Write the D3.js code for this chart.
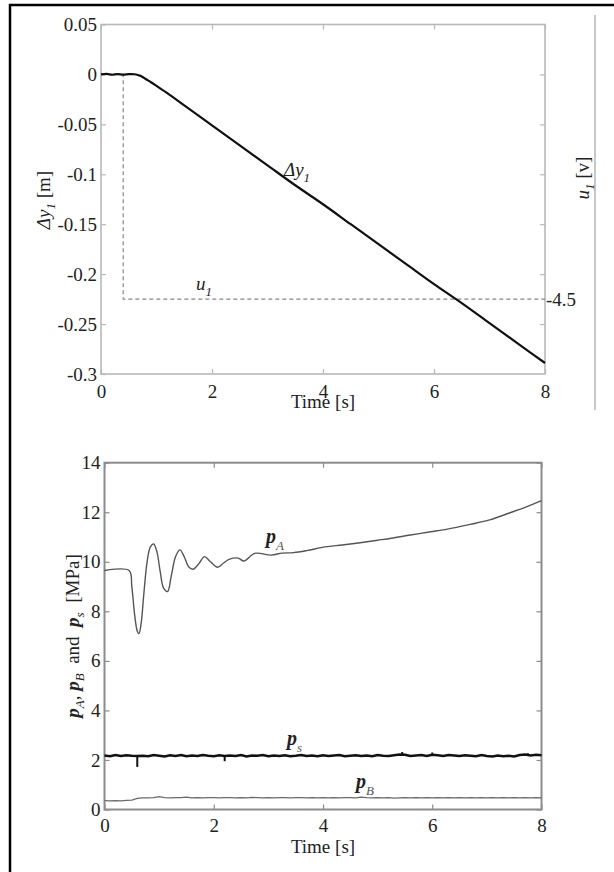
<!DOCTYPE html>
<html><head><meta charset="utf-8">
<script src="https://cdn.jsdelivr.net/npm/d3@7"></script>
<style>
body{margin:0;background:#fff}
svg{display:block}
svg text{font-family:"Liberation Serif","Times New Roman",serif !important;fill:#222}
</style>
</head><body>
<svg id="c" width="614" height="872"></svg>
<script>
// ---------- data: top panel ----------
const dyTime = [0,0.1,0.2,0.3,0.4,0.5,0.55,0.6,0.65,0.7,0.75,0.8,0.9,1.0,1.2,1.5,2,2.5,3,3.5,4,4.5,5,5.5,6,6.5,7,7.5,8];
const dyVal  = [0,0.0005,-0.0003,0.0004,-0.0002,0.0003,0.0004,0.0002,-0.0003,-0.0012,-0.0025,-0.0043,-0.0078,-0.0115,-0.019,-0.031,-0.051,-0.071,-0.091,-0.111,-0.130,-0.150,-0.170,-0.190,-0.210,-0.229,-0.249,-0.269,-0.289];
const uTime = [0,0.4,0.4,8];
const uVal  = [0,0,-4.5,-4.5];
const topXTicks = [0,2,4,6,8];
const topXLabels = ["0","2","4","6","8"];
const topYTicks = [0.05,0,-0.05,-0.1,-0.15,-0.2,-0.25,-0.3];
const topYLabels = ["0.05","0","-0.05","-0.1","-0.15","-0.2","-0.25","-0.3"];
const rightTicks = [0,-1,-2,-3,-4,-5];
const rightLabelVal = -4.5;
const rightLabelText = "-4.5";

// ---------- data: bottom panel ----------
const pATime = [0,0.45,0.5,0.55,0.6,0.63,0.67,0.72,0.78,0.84,0.9,0.96,1.02,1.08,1.155,1.22,1.3,1.38,1.46,1.54,1.62,1.72,1.83,1.94,2.07,2.18,2.28,2.45,2.55,2.75,3.05,3.25,3.46,3.7,4.04,4.35,4.68,5.0,5.25,5.6,5.97,6.3,6.69,7.05,7.4,7.7,8];
const pAVal  = [9.65,9.65,9.0,7.9,7.2,7.1,7.5,8.7,10.0,10.6,10.72,10.4,9.6,8.95,8.8,9.4,10.2,10.48,10.2,9.8,9.7,9.9,10.21,10.0,9.78,9.95,10.1,10.15,10.03,10.34,10.27,10.35,10.37,10.45,10.6,10.68,10.77,10.87,10.95,11.08,11.21,11.33,11.51,11.69,11.96,12.2,12.47];
const sampleStep = 0.1; // ps and pB are sampled every 0.1 s from t = 0
const psVal = [2.18,2.15,2.20,2.16,2.19,2.17,2.16,2.17,2.15,2.20,
               2.17,2.14,2.19,2.16,2.20,2.15,2.18,2.16,2.20,2.17,
               2.15,2.19,2.16,2.18,2.16,2.20,2.14,2.18,2.17,2.20,
               2.15,2.18,2.16,2.19,2.15,2.17,2.20,2.16,2.18,2.15,
               2.19,2.16,2.18,2.20,2.15,2.17,2.19,2.16,2.18,2.15,
               2.20,2.17,2.16,2.19,2.22,2.21,2.16,2.18,2.20,2.16,
               2.21,2.19,2.16,2.20,2.18,2.16,2.19,2.17,2.15,2.20,
               2.16,2.14,2.18,2.15,2.17,2.14,2.20,2.22,2.18,2.21,2.19];
const psSpikeT = [0.6,2.2,5.45,6.0,7.75];
const psSpikeV = [1.72,1.95,2.32,2.30,2.27];
const pBVal = [0.36,0.35,0.36,0.35,0.37,0.38,0.45,0.47,0.47,0.48,
               0.52,0.48,0.47,0.48,0.48,0.50,0.47,0.48,0.47,0.48,
               0.48,0.47,0.48,0.48,0.47,0.48,0.47,0.49,0.48,0.47,
               0.48,0.47,0.48,0.48,0.47,0.48,0.48,0.47,0.48,0.47,
               0.48,0.47,0.48,0.47,0.48,0.48,0.47,0.50,0.48,0.47,
               0.48,0.47,0.48,0.46,0.47,0.48,0.47,0.48,0.47,0.48,
               0.47,0.48,0.47,0.48,0.47,0.48,0.47,0.48,0.47,0.48,
               0.47,0.48,0.47,0.48,0.47,0.48,0.47,0.48,0.47,0.48,0.47];
const botXTicks = [0,2,4,6,8];
const botXLabels = ["0","2","4","6","8"];
const botYTicks = [0,2,4,6,8,10,12,14];
const botYLabels = ["0","2","4","6","8","10","12","14"];

// ---------- drawing ----------
const svg = d3.select("#c");
const FS = 19;
const SERIF = "'Liberation Serif','Times New Roman',serif";

// outer frame
svg.append("line").attr("x1",9).attr("x2",614).attr("y1",5).attr("y2",5).attr("stroke","#000").attr("stroke-width",2.5);
svg.append("line").attr("x1",10).attr("x2",10).attr("y1",4).attr("y2",872).attr("stroke","#000").attr("stroke-width",2.5);
svg.append("line").attr("x1",595).attr("x2",595).attr("y1",15).attr("y2",410).attr("stroke","#c8c8c8").attr("stroke-width",2);

function styleAxis(g, col){
  g.attr("font-family", SERIF).attr("font-size", FS);
  g.select(".domain").remove();
  g.selectAll(".tick line").attr("stroke",col).attr("stroke-width",1.2);
  g.selectAll(".tick text").style("font-family",SERIF).style("font-size",FS+"px").attr("fill","#222");
}

// ===== top panel =====
const x1 = d3.scaleLinear([0,8],[101,545]);
const y1 = d3.scaleLinear([0.05,-0.3],[24.5,374]);
const yR = d3.scaleLinear([1,-6],[24.5,374]);
const topCol = "#b8b8b8";
const gT = svg.append("g");

gT.append("g").attr("transform","translate(0,374)")
  .call(d3.axisBottom(x1).tickValues(topXTicks).tickFormat((d,i)=>topXLabels[i]).tickSizeInner(-5).tickSizeOuter(0).tickPadding(11))
  .call(g=>styleAxis(g,topCol));
gT.append("g").attr("transform","translate(0,24.5)")
  .call(d3.axisTop(x1).tickValues(topXTicks).tickFormat("").tickSizeInner(-5).tickSizeOuter(0))
  .call(g=>styleAxis(g,topCol));
gT.append("g").attr("transform","translate(101,0)")
  .call(d3.axisLeft(y1).tickValues(topYTicks).tickFormat((d,i)=>topYLabels[i]).tickSizeInner(-5).tickSizeOuter(0).tickPadding(4))
  .call(g=>styleAxis(g,topCol));
gT.append("g").attr("transform","translate(545,0)")
  .call(d3.axisRight(yR).tickValues(rightTicks).tickFormat("").tickSizeInner(-5).tickSizeOuter(0))
  .call(g=>styleAxis(g,topCol));
gT.append("rect").attr("x",x1(0)).attr("y",y1(0.05)).attr("width",x1(8)-x1(0)).attr("height",y1(-0.3)-y1(0.05))
  .attr("fill","none").attr("stroke",topCol).attr("stroke-width",1.6);

// u1 dashed
gT.append("path").datum(uTime.map((t,i)=>[t,uVal[i]]))
  .attr("d",d3.line().x(d=>x1(d[0])).y(d=>yR(d[1])))
  .attr("fill","none").attr("stroke","#888").attr("stroke-width",1.2).attr("stroke-dasharray","4,3");
// dy1 line
gT.append("path").datum(dyTime.map((t,i)=>[t,dyVal[i]]))
  .attr("d",d3.line().x(d=>x1(d[0])).y(d=>y1(d[1])).curve(d3.curveMonotoneX))
  .attr("fill","none").attr("stroke","#111").attr("stroke-width",2.2);

// right label -4.5
gT.append("text").attr("x",546).attr("y",yR(rightLabelVal)).attr("dy","0.35em").attr("font-size",FS).text(rightLabelText);

// axis labels
gT.append("text").attr("x",323).attr("y",408).attr("text-anchor","middle").attr("font-size",FS).text("Time [s]");
const yl1 = gT.append("text").attr("transform","translate(50,200) rotate(-90)").attr("text-anchor","middle").attr("font-size",FS);
yl1.append("tspan").attr("font-style","italic").text("Δy");
yl1.append("tspan").attr("font-style","italic").attr("font-size",13).attr("dy",5).text("1");
yl1.append("tspan").attr("dy",-5).text("  [m]");
const ylR = gT.append("text").attr("transform","translate(589,178) rotate(-90)").attr("text-anchor","middle").attr("font-size",FS);
ylR.append("tspan").attr("font-style","italic").text("u");
ylR.append("tspan").attr("font-style","italic").attr("font-size",13).attr("dy",5).text("1");
ylR.append("tspan").attr("dy",-5).text("  [v]");

// in-plot labels
const lDy = gT.append("text").attr("x",284).attr("y",176).attr("font-size",FS);
lDy.append("tspan").attr("font-style","italic").text("Δy");
lDy.append("tspan").attr("font-style","italic").attr("font-size",13).attr("dy",6).text("1");
const lU = gT.append("text").attr("x",196).attr("y",290).attr("font-size",FS);
lU.append("tspan").attr("font-style","italic").text("u");
lU.append("tspan").attr("font-style","italic").attr("font-size",13).attr("dy",6).text("1");

// ===== bottom panel =====
const x2 = d3.scaleLinear([0,8],[104.5,541.5]);
const y2 = d3.scaleLinear([0,14],[809.5,462.7]);
const botCol = "#8c8c8c";
const gB = svg.append("g");
gB.append("g").attr("transform","translate(0,809.5)")
  .call(d3.axisBottom(x2).tickValues(botXTicks).tickFormat((d,i)=>botXLabels[i]).tickSizeInner(-5).tickSizeOuter(0).tickPadding(9))
  .call(g=>styleAxis(g,botCol));
gB.append("g").attr("transform","translate(0,462.7)")
  .call(d3.axisTop(x2).tickValues(botXTicks).tickFormat("").tickSizeInner(-5).tickSizeOuter(0))
  .call(g=>styleAxis(g,botCol));
gB.append("g").attr("transform","translate(104.5,0)")
  .call(d3.axisLeft(y2).tickValues(botYTicks).tickFormat((d,i)=>botYLabels[i]).tickSizeInner(-5).tickSizeOuter(0).tickPadding(4))
  .call(g=>styleAxis(g,botCol));
gB.append("g").attr("transform","translate(541.5,0)")
  .call(d3.axisRight(y2).tickValues(botYTicks).tickFormat("").tickSizeInner(-5).tickSizeOuter(0))
  .call(g=>styleAxis(g,botCol));
gB.append("rect").attr("x",x2(0)).attr("y",y2(14)).attr("width",x2(8)-x2(0)).attr("height",y2(0)-y2(14))
  .attr("fill","none").attr("stroke",botCol).attr("stroke-width",2);

const lineB = d3.line().x(d=>x2(d[0])).y(d=>y2(d[1]));
gB.append("path").datum(pBVal.map((v,i)=>[i*sampleStep,v]))
  .attr("d",lineB).attr("fill","none").attr("stroke","#6a6a6a").attr("stroke-width",1.3);
gB.append("path").datum(psVal.map((v,i)=>[i*sampleStep,v]))
  .attr("d",lineB).attr("fill","none").attr("stroke","#111").attr("stroke-width",2.6);
gB.selectAll(".spk").data(psSpikeT.map((t,i)=>[t,psSpikeV[i]])).enter().append("line")
  .attr("x1",d=>x2(d[0])).attr("x2",d=>x2(d[0])).attr("y1",y2(2.17)).attr("y2",d=>y2(d[1]))
  .attr("stroke","#111").attr("stroke-width",2);
gB.append("path").datum(pATime.map((t,i)=>[t,pAVal[i]]))
  .attr("d",lineB.curve(d3.curveCatmullRom)).attr("fill","none").attr("stroke","#555").attr("stroke-width",1.4);

gB.append("text").attr("x",323).attr("y",853).attr("text-anchor","middle").attr("font-size",FS).text("Time [s]");
const yl2 = gB.append("text").attr("transform","translate(79,636) rotate(-90)").attr("text-anchor","middle").attr("font-size",FS).attr("xml:space","preserve");
yl2.append("tspan").attr("font-style","italic").attr("font-weight","bold").text("p");
yl2.append("tspan").attr("font-style","italic").attr("font-size",13).attr("dy",5).text("A");
yl2.append("tspan").attr("dy",-5).text(", ");
yl2.append("tspan").attr("font-style","italic").attr("font-weight","bold").text("p");
yl2.append("tspan").attr("font-style","italic").attr("font-size",13).attr("dy",5).text("B");
yl2.append("tspan").attr("dy",-5).text("  and  ");
yl2.append("tspan").attr("font-style","italic").attr("font-weight","bold").text("p");
yl2.append("tspan").attr("font-style","italic").attr("font-size",13).attr("dy",5).text("s");
yl2.append("tspan").attr("dy",-5).text("  [MPa]");

function pLabel(x,y,sub){
  const t = gB.append("text").attr("x",x).attr("y",y).attr("font-size",20);
  t.append("tspan").attr("font-style","italic").attr("font-weight","bold").text("p");
  t.append("tspan").attr("font-style","italic").attr("font-size",13).attr("dy",7).attr("fill","#555").text(sub);
}
pLabel(266,543,"A");
pLabel(287,745,"s");
pLabel(356,788,"B");
</script>
</body></html>
